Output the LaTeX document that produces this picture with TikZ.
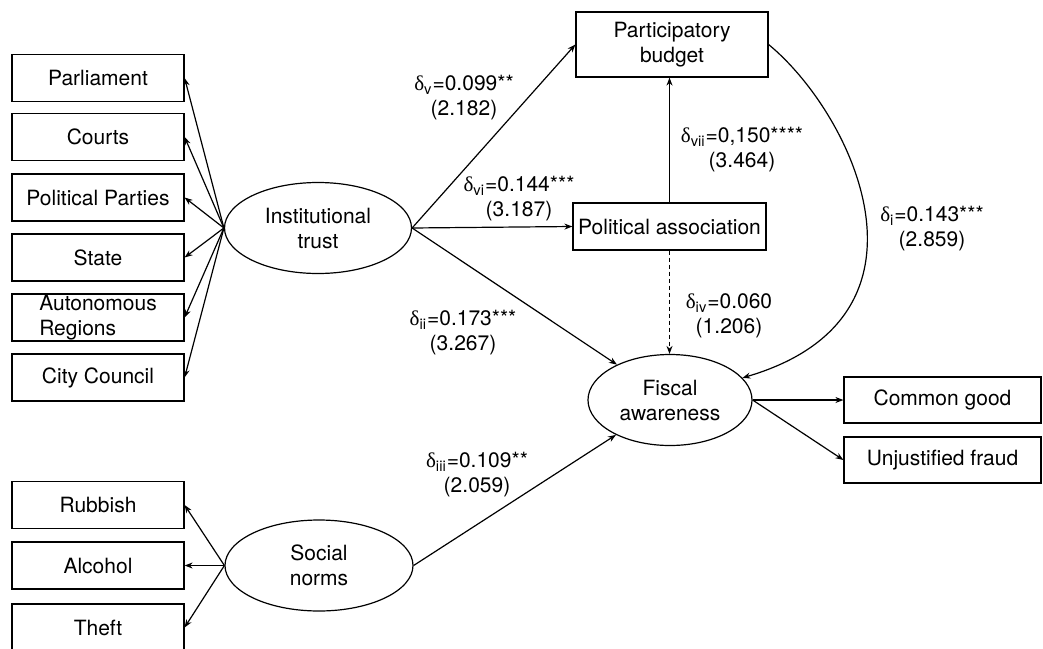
\documentclass[tikz,border=0pt]{standalone}
\usepackage{fontspec}
\setmainfont{TeX Gyre Heros}
\newfontfamily\grkfont{Liberation Serif}
\usepackage{tikz}
\usetikzlibrary{shapes.geometric,arrows.meta}
\def\dlt#1{{\grkfont δ}\textsubscript{#1}}
\def\darr{\draw[arr]}
\tikzset{
  every node/.style={font=\fontsize{10.5}{12.5}\selectfont},
  ind/.style={draw, minimum width=86pt, minimum height=23.5pt, inner sep=0pt, align=center},
  lat/.style={draw, ellipse, minimum height=45.5pt, inner sep=0pt, align=center},
  coef/.style={align=center, inner sep=0pt},
  arr/.style={-{Stealth[length=4pt,width=3pt]}},
}
\begin{document}
\begin{tikzpicture}[x=0.5pt,y=-0.5pt,line width=0.6pt]
                \useasboundingbox (0,0) rectangle (1043,648);
                % latent constructs
                \node[lat, minimum width=93.5pt] (it) at (318,228) {Institutional\\trust};
                \node[lat, minimum width=94pt] (sn) at (319,565.5) {Social\\norms};
                \node[lat, minimum width=82pt] (fa) at (670,400) {Fiscal\\awareness};
                \node[ind, minimum width=96pt, minimum height=32.5pt] (pb) at (672,44.5) {Participatory\\budget};
                \node[ind, minimum width=96.5pt] (pa) at (669.5,226.5) {Political association};
                % indicators
                \node[ind] (parl) at (98,78) {Parliament};
                \node[ind] (cour) at (98,137) {Courts};
                \node[ind] (ppar) at (98,197.5) {Political Parties};
                \node[ind] (stat) at (98,257.5) {State};
                \node[ind, align=left] (auto) at (98,317.5) {Autonomous\\Regions};
                \node[ind] (city) at (98,377.5) {City Council};
                \node[ind] (rubb) at (98,505) {Rubbish};
                \node[ind] (alco) at (98,565.5) {Alcohol};
                \node[ind] (thef) at (98,627.5) {Theft};
                \node[ind, minimum width=98.5pt, minimum height=23pt] (cgood) at (942.5,400) {Common good};
                \node[ind, minimum width=98.5pt, minimum height=23pt] (ufraud) at (942.5,460) {Unjustified fraud};
                % loadings
                \darr (it.west) -- (parl.east);
                \darr (it.west) -- (cour.east);
                \darr (it.west) -- (ppar.east);
                \darr (it.west) -- (stat.east);
                \darr (it.west) -- (auto.east);
                \darr (it.west) -- (city.east);
                \darr (sn.west) -- (rubb.east);
                \darr (sn.west) -- (alco.east);
                \darr (sn.west) -- (thef.east);
                \darr (fa.east) -- (cgood.west);
                \darr (fa.east) -- (ufraud.west);
                % paths
                \darr (it.east) -- (pb.west);
                \darr (it.east) -- (pa.west);
                \darr (it.east) -- (fa);
                \darr (sn.east) -- (fa);
                \darr (pa.north) -- (pa.north |- pb.south);
                \draw[arr, dash pattern=on 2pt off 1.5pt] (pa.south) -- (pa.south |- fa.north);
                \darr (pb.east) .. controls (853,114) and (950,317) .. (fa.17);
                % coefficients
                \node[coef] (cv) at (464,98) {\dlt{v}=0.099**\\(2.182)};
                \node[coef] (cvi) at (519,199) {\dlt{vi}=0.144***\\(3.187)};
                \node[coef] (cvii) at (742,150) {\dlt{vii}=0,150****\\(3.464)};
                \node[coef] (ci) at (932,229) {\dlt{i}=0.143***\\(2.859)};
                \node[coef] (civ) at (729,316) {\dlt{iv}=0.060\\(1.206)};
                \node[coef] (cii) at (463,333) {\dlt{ii}=0.173***\\(3.267)};
                \node[coef] (ciii) at (477,475) {\dlt{iii}=0.109**\\(2.059)};
            \end{tikzpicture}
\end{document}
